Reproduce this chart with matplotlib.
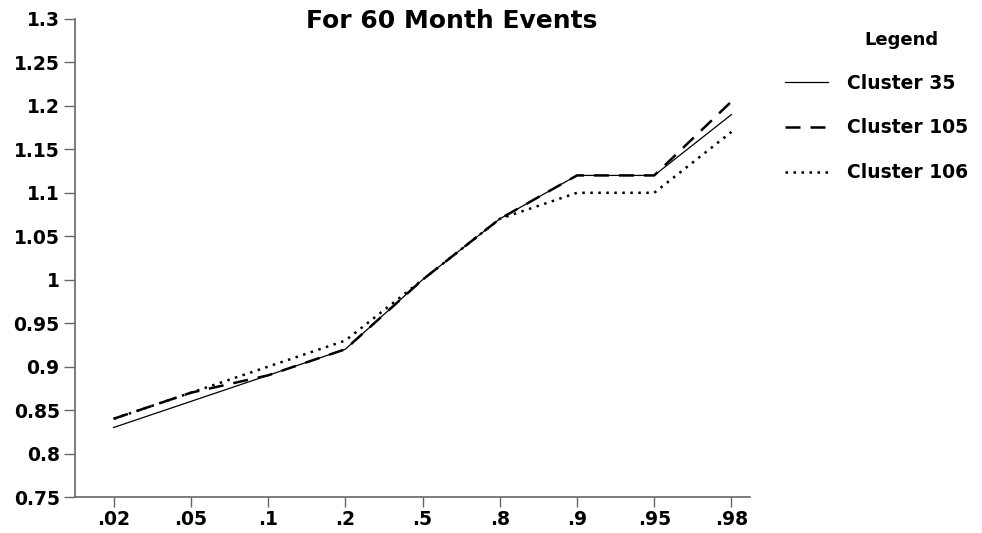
import numpy as np
import matplotlib.pyplot as plt

# ---- data ----
x_labels = [".02", ".05", ".1", ".2", ".5", ".8", ".9", ".95", ".98"]
cluster_35 = [0.83, 0.86, 0.89, 0.92, 1.00, 1.07, 1.12, 1.12, 1.19]
cluster_105 = [0.84, 0.87, 0.89, 0.92, 1.00, 1.07, 1.12, 1.12, 1.205]
cluster_106 = [0.84, 0.87, 0.90, 0.93, 1.00, 1.07, 1.10, 1.10, 1.17]
y_ticks = [0.75, 0.8, 0.85, 0.9, 0.95, 1.0, 1.05, 1.1, 1.15, 1.2, 1.25, 1.3]
y_tick_labels = ["0.75", "0.8", "0.85", "0.9", "0.95", "1", "1.05", "1.1",
                 "1.15", "1.2", "1.25", "1.3"]

plt.rcParams['font.family'] = ['DejaVu Sans']
FS = 13.5

fig = plt.figure(figsize=(9.82, 5.33), dpi=100)
ax = fig.add_axes([0.0764, 0.0675, 0.6873, 0.8969])

x = np.arange(len(x_labels))
ax.plot(x, cluster_35, color='black', lw=0.9, ls='-', label='Cluster 35')
ax.plot(x, cluster_105, color='black', lw=1.8, ls=(0, (6, 4)), label='Cluster 105')
ax.plot(x, cluster_106, color='black', lw=1.8, ls=(0, (1, 2.2)), label='Cluster 106')

ax.set_xlim(-0.5, 8.24)
ax.set_ylim(0.75, 1.3)
ax.set_xticks(x)
ax.set_xticklabels(x_labels, fontsize=FS, fontweight='bold')
ax.set_yticks(y_ticks)
ax.set_yticklabels(y_tick_labels, fontsize=FS, fontweight='bold')
ax.tick_params(axis='both', length=8, width=1, color='#666666', pad=3)
ax.tick_params(axis='x', length=7, pad=2)

for side in ['top', 'right']:
    ax.spines[side].set_visible(False)
for side in ['left', 'bottom']:
    ax.spines[side].set_color('#666666')
    ax.spines[side].set_linewidth(1.2)

fig.text(0.46, 0.96, 'For 60 Month Events', ha='center', va='center',
         fontsize=18, fontweight='bold')

# legend: title placed on its own, entries through the legend machinery
fig.text(0.918, 0.925, 'Legend', ha='center', va='center',
         fontsize=FS - 0.5, fontweight='bold')
leg = fig.legend(loc='upper left', bbox_to_anchor=(0.7994, 0.862), frameon=False,
                 fontsize=FS, handlelength=2.3, handletextpad=1.0,
                 labelspacing=1.38, borderpad=0, borderaxespad=0)
for t in leg.get_texts():
    t.set_fontweight('bold')

fig.savefig('out.png', dpi=100)
